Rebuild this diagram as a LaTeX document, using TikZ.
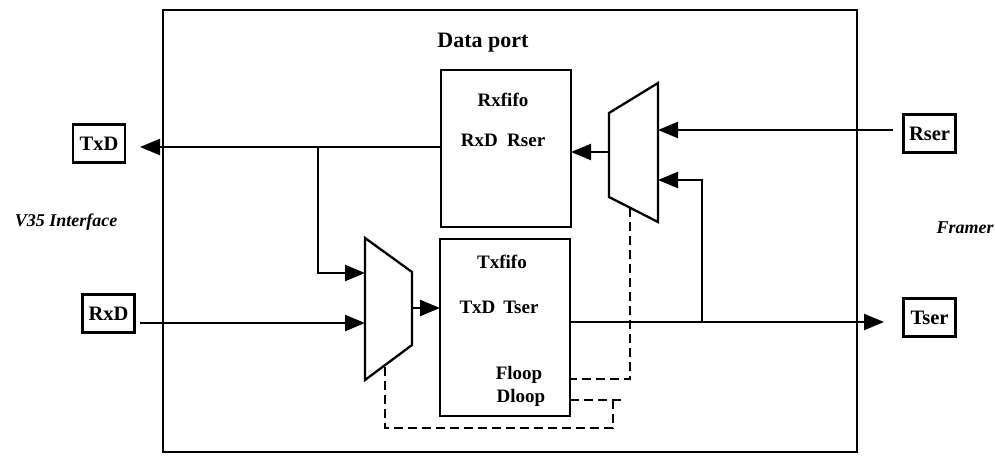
\documentclass[tikz,border=0pt]{standalone}
\usepackage{fontspec}
\setmainfont{Liberation Serif}
\usetikzlibrary{arrows.meta}
\begin{document}
\begin{tikzpicture}[x=1pt,y=-1pt,
  sig/.style={line width=2.3pt,-{Triangle[length=20pt,width=16pt]}},
  loopline/.style={line width=2.3pt,dash pattern=on 9pt off 5pt},
  fifo/.style={draw,line width=2.3pt,inner sep=0pt,minimum width=130pt},
  port/.style={draw,line width=2.5pt,inner sep=0pt,minimum width=52pt,minimum height=38pt,font=\fontsize{20.5}{24}\selectfont\bfseries},
  txt/.style={inner sep=0pt,font=\fontsize{19}{22}\selectfont\bfseries},
  side/.style={inner sep=0pt,font=\fontsize{18}{21}\selectfont\bfseries\itshape},
  muxshape/.style={draw,line width=2.3pt,line join=miter}]
\useasboundingbox (0,0) rectangle (995,455);
% outer frame
\node[draw,line width=2.2pt,inner sep=0pt,minimum width=694pt,minimum height=442pt] (frame) at (510,231) {};
\node[inner sep=0pt,font=\fontsize{22}{26}\selectfont\bfseries] (title) at (483,43) {Data port};
% fifos
\node[fifo,minimum height=157pt] (rxfifo) at (506,148.5) {};
\node[fifo,minimum height=177pt] (txfifo) at (505,327.5) {};
\node[txt] (rxname) at (503,100) {Rxfifo};
\node[txt] (rxports) at (503,140) {RxD\enspace Rser};
\node[txt] (txname) at (502,262) {Txfifo};
\node[txt] (txports) at (499,307) {TxD\, Tser};
\node[txt] (floop) at (519,375) {Floop};
\node[txt] (dloop) at (521,398) {Dloop};
% ports
\node[port] (txd) at (99,143.5) {TxD};
\node[port] (rxd) at (108.5,313.5) {RxD};
\node[port] (rser) at (929.5,133.5) {Rser};
\node[port] (tser) at (929.5,317.5) {Tser};
\node[side] (v35) at (66,222) {V35 Interface};
\node[side] (framer) at (965,228) {Framer};
% muxes
\coordinate (lmtl) at (365,238); \coordinate (lmtr) at (412,272);
\coordinate (lmbr) at (412,345); \coordinate (lmbl) at (365,380);
\draw[muxshape] (lmtl) -- (lmtr) -- (lmbr) -- (lmbl) -- cycle;
\coordinate (rmtl) at (609,113); \coordinate (rmtr) at (658,83);
\coordinate (rmbr) at (658,222); \coordinate (rmbl) at (609,197);
\draw[muxshape] (rmtl) -- (rmtr) -- (rmbr) -- (rmbl) -- cycle;
% signal points
\coordinate (txdtip) at (140,147);
\coordinate (branch) at (318,147);
\coordinate (lmin1) at (365,273);
\coordinate (rxdstart) at (140,323);
\coordinate (lmin2) at (365,323);
\coordinate (lmout) at (412,308);
\coordinate (txin) at (440,308);
\coordinate (rmout) at (609,152);
\coordinate (rxin) at (571,152);
\coordinate (rserstart) at (893,130);
\coordinate (rmin1) at (658,130);
\coordinate (rmin2) at (658,180);
\coordinate (tsertap) at (702,322);
\coordinate (tserout) at (570,322);
\coordinate (tsertip) at (884,322);
% connectors
\draw[sig] (rxfifo.west |- txdtip) -- (txdtip);
\draw[sig] (branch) |- (lmin1);
\draw[sig] (rxdstart) -- (lmin2);
\draw[sig] (lmout) -- (txin);
\draw[sig] (rmout) -- (rxin);
\draw[sig] (rserstart) -- (rmin1);
\draw[sig] (tsertap) |- (rmin2);
\draw[sig] (tserout) -- (tsertip);
% loop lines
\coordinate (rmsel) at (630,208);
\coordinate (floopend) at (570,379);
\draw[loopline] (rmsel) |- (floopend);
\coordinate (dloopend) at (570,400);
\coordinate (dloopstub) at (622,400);
\coordinate (dloopcorner) at (613,428);
\coordinate (lmsel) at (385,365);
\draw[loopline] (dloopend) -- (dloopstub);
\draw[loopline] (613,400) -- (dloopcorner) -| (lmsel);
\end{tikzpicture}
\end{document}
